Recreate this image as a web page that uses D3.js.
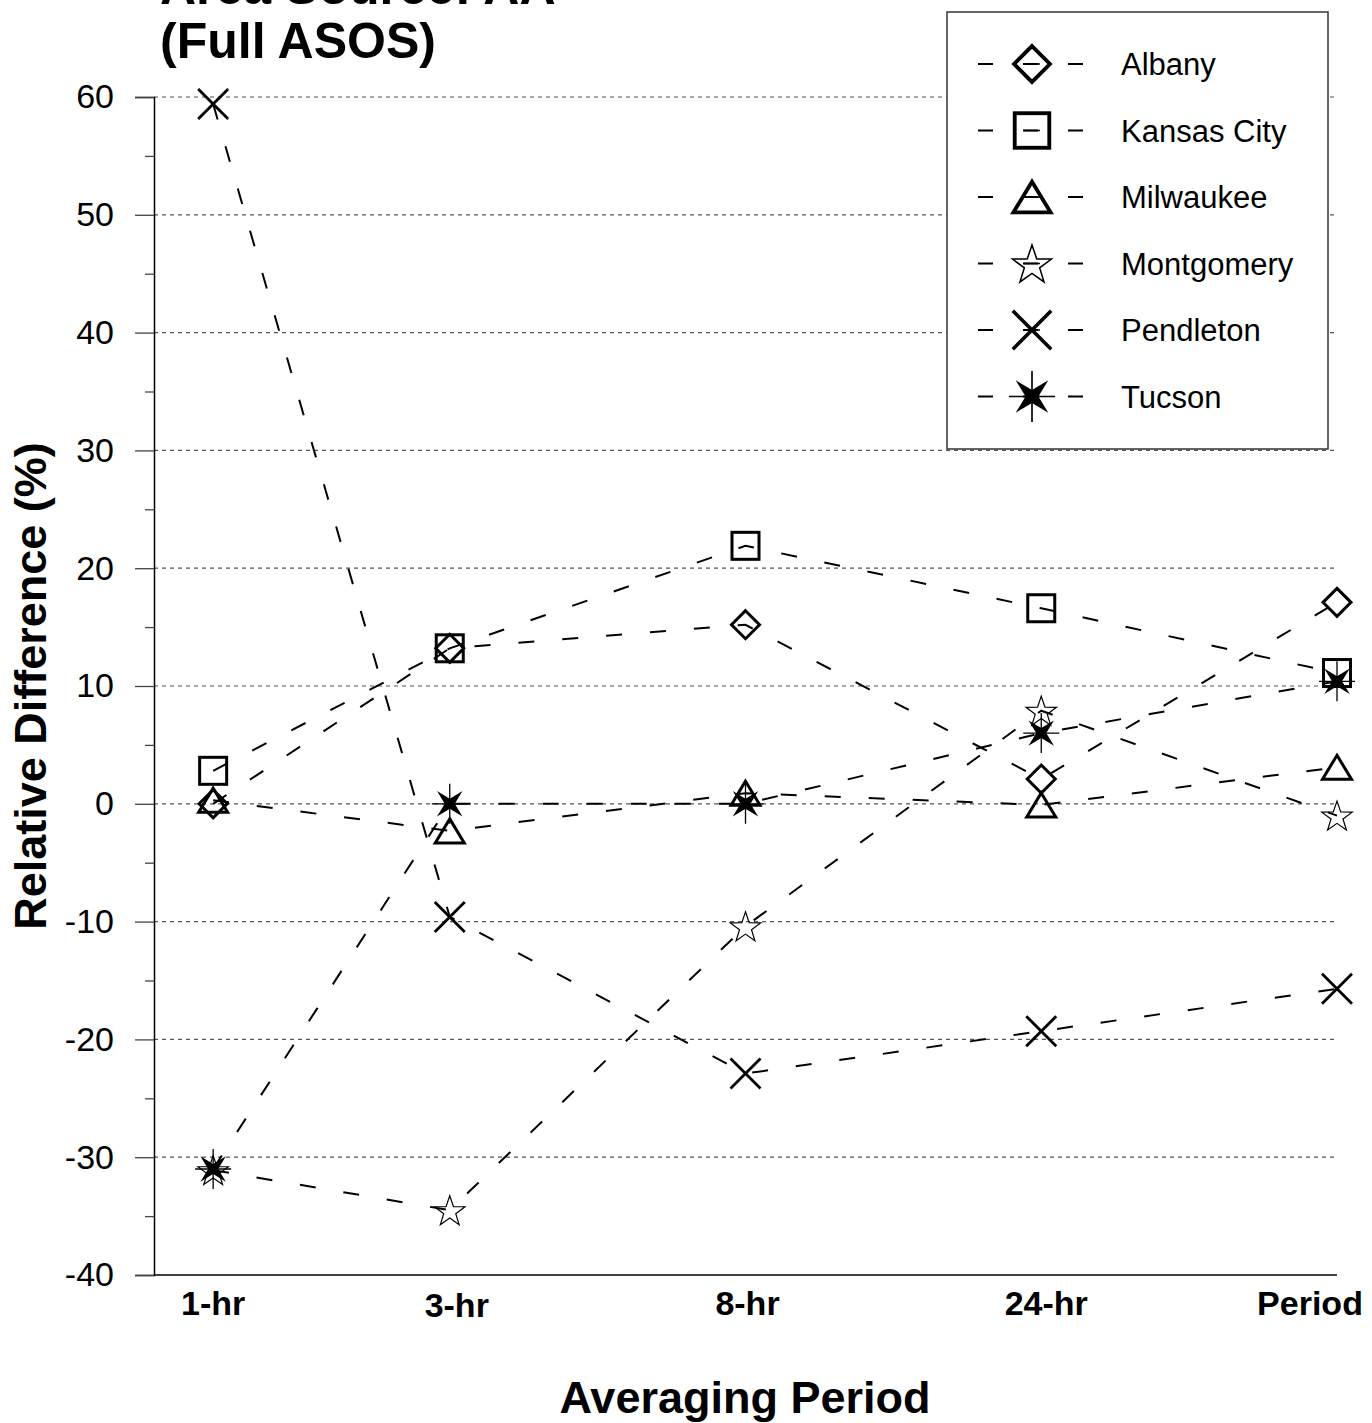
<!DOCTYPE html>
<html>
<head>
<meta charset="utf-8">
<script src="https://cdn.jsdelivr.net/npm/d3@7"></script>
<style>
  html, body { margin: 0; padding: 0; background: #fff; }
  svg { display: block; font-family: "Liberation Sans", Arial, sans-serif; }
</style>
</head>
<body>
<svg id="chart" width="1372" height="1423"></svg>
<script>
// Averaging periods along the x axis and where each sits on the period scale
const periods = ["1-hr", "3-hr", "8-hr", "24-hr", "Period"];
const periodPos = [0.2, 1, 2, 3, 4];

// Relative difference (%) per station, one value per averaging period
const albany      = [0.0, 13.2, 15.2, 2.1, 17.1];
const kansasCity  = [2.8, 13.2, 21.9, 16.6, 11.1];
const milwaukee   = [0.3, -2.3, 0.9, -0.1, 3.1];
const montgomery  = [-31.1, -34.5, -10.4, 7.9, -1.0];
const pendleton   = [59.4, -9.6, -22.9, -19.3, -15.7];
const tucson      = [-31.0, 0.0, 0.0, 6.0, 10.4];

const stations = ["Albany", "Kansas City", "Milwaukee", "Montgomery", "Pendleton", "Tucson"];
const markers  = ["diamond", "square", "triangle", "star", "cross", "asterisk"];
const seriesValues = [albany, kansasCity, milwaukee, montgomery, pendleton, tucson];

const yMajorTicks = [60, 50, 40, 30, 20, 10, 0, -10, -20, -30, -40];
const yMinorTicks = [55, 45, 35, 25, 15, 5, -5, -15, -25, -35];

const svg = d3.select("#chart");

const x = d3.scaleLinear().domain([0, 4]).range([154, 1337]);
const y = d3.scaleLinear().domain([-40, 60]).range([1275, 97]);

// Horizontal dotted gridlines
svg.append("g")
  .selectAll("line")
  .data(yMajorTicks.filter(v => v > -40))
  .join("line")
  .attr("x1", x(0)).attr("x2", x(4))
  .attr("y1", d => y(d)).attr("y2", d => y(d))
  .attr("stroke", "#555").attr("stroke-width", 1.2)
  .attr("stroke-dasharray", "4,4");

// Y axis: major ticks with labels, minor ticks without
const yAxis = svg.append("g").attr("transform", `translate(${x(0)},0)`)
  .call(d3.axisLeft(y).tickValues(yMajorTicks).tickSize(19).tickPadding(21).tickFormat(d => String(d)));
yAxis.select(".domain").attr("stroke", "#000").attr("stroke-width", 1.5);
yAxis.selectAll(".tick line").attr("stroke", "#444").attr("stroke-width", 1.3);
yAxis.selectAll(".tick text")
  .attr("font-size", 34).attr("fill", "#000")
  .attr("font-family", "'Liberation Sans', Arial, sans-serif");

const yMinor = svg.append("g").attr("transform", `translate(${x(0)},0)`)
  .call(d3.axisLeft(y).tickValues(yMinorTicks).tickSize(9).tickFormat(""));
yMinor.select(".domain").remove();
yMinor.selectAll(".tick line").attr("stroke", "#444").attr("stroke-width", 1.3);

// X axis baseline and category labels
svg.append("line")
  .attr("x1", x(0)).attr("x2", x(4))
  .attr("y1", y(-40)).attr("y2", y(-40))
  .attr("stroke", "#000").attr("stroke-width", 1.5);

const labelShift = [0, 7, 2, 5, -27];
svg.append("g")
  .selectAll("text")
  .data(periods)
  .join("text")
  .attr("x", (d, i) => x(periodPos[i]) + labelShift[i])
  .attr("y", (d, i) => i === 1 ? 1317 : 1315)
  .attr("text-anchor", "middle")
  .attr("font-size", 34).attr("font-weight", "bold")
  .text(d => d);

// Marker shapes
const starPath = (() => {
  const pts = [];
  for (let i = 0; i < 10; i++) {
    const r = i % 2 === 0 ? 16 : 6.3;
    const a = -Math.PI / 2 + i * Math.PI / 5;
    pts.push([r * Math.cos(a), r * Math.sin(a) + 1.5]);
  }
  return "M" + pts.map(p => p.join(",")).join("L") + "Z";
})();
const asteriskFill = (() => {
  const pts = [];
  for (let i = 0; i < 8; i++) {
    const r = i % 2 === 0 ? 18 : 5;
    const a = -Math.PI * 3 / 4 + i * Math.PI / 4;
    pts.push([r * Math.cos(a), r * Math.sin(a)]);
  }
  return "M" + pts.map(p => p.join(",")).join("L") + "Z";
})();

function drawMarker(g, type) {
  switch (type) {
    case "diamond":
      g.append("path").attr("d", "M0,-14L14,0L0,14L-14,0Z")
        .attr("fill", "none").attr("stroke", "#000").attr("stroke-width", 3);
      break;
    case "square":
      g.append("rect").attr("x", -13.5).attr("y", -13.5).attr("width", 27).attr("height", 27)
        .attr("fill", "none").attr("stroke", "#000").attr("stroke-width", 3);
      break;
    case "triangle":
      g.append("path").attr("d", "M0,-12L14.5,12L-14.5,12Z")
        .attr("fill", "none").attr("stroke", "#000").attr("stroke-width", 3)
        .attr("stroke-linejoin", "miter");
      break;
    case "star":
      g.append("path").attr("d", starPath)
        .attr("fill", "none").attr("stroke", "#000").attr("stroke-width", 1.2);
      break;
    case "cross":
      g.append("path").attr("d", "M-15,-15L15,15M15,-15L-15,15")
        .attr("fill", "none").attr("stroke", "#000").attr("stroke-width", 2.8);
      break;
    case "asterisk":
      g.append("path").attr("d", asteriskFill).attr("fill", "#000");
      g.append("path").attr("d", "M0,-20L0,20M-18,0L18,0")
        .attr("stroke", "#000").attr("stroke-width", 1.3);
      break;
  }
}

const line = d3.line()
  .x((d, i) => x(periodPos[i]))
  .y(d => y(d));

const plot = svg.append("g");
seriesValues.forEach((vals, s) => {
  plot.append("path")
    .datum(vals)
    .attr("d", line)
    .attr("fill", "none")
    .attr("stroke", "#000").attr("stroke-width", 2)
    .attr("stroke-dasharray", "16,28");
  vals.forEach((v, i) => {
    const g = plot.append("g").attr("transform", `translate(${x(periodPos[i])},${y(v)})`);
    drawMarker(g, markers[s]);
  });
});

// Legend
const legend = svg.append("g");
legend.append("rect")
  .attr("x", 947).attr("y", 12).attr("width", 381).attr("height", 437)
  .attr("fill", "#fff").attr("stroke", "#333").attr("stroke-width", 1.5);
stations.forEach((name, i) => {
  const cy = 64 + i * 66.5;
  legend.append("line")
    .attr("x1", 978).attr("x2", 1084).attr("y1", cy).attr("y2", cy)
    .attr("stroke", "#000").attr("stroke-width", 2)
    .attr("stroke-dasharray", "15,30");
  legend.append("line")
    .attr("x1", 1024).attr("x2", 1040).attr("y1", cy).attr("y2", cy)
    .attr("stroke", "#000").attr("stroke-width", 1.5);
  drawMarker(legend.append("g").attr("transform", `translate(1032,${cy}) scale(1.28)`), markers[i]);
  legend.append("text")
    .attr("x", 1121).attr("y", cy + 11)
    .attr("font-size", 31)
    .text(name);
});

// Titles (the first line runs off the top of the page)
svg.append("text")
  .attr("x", 160).attr("y", 4)
  .attr("font-size", 50).attr("font-weight", "bold")
  .text("Area Source: AA");
svg.append("text")
  .attr("x", 160).attr("y", 58)
  .attr("font-size", 50).attr("font-weight", "bold")
  .text("(Full ASOS)");

svg.append("text")
  .attr("transform", "translate(46,686) rotate(-90)")
  .attr("text-anchor", "middle")
  .attr("font-size", 45).attr("font-weight", "bold")
  .text("Relative Difference (%)");

svg.append("text")
  .attr("x", 745).attr("y", 1413)
  .attr("text-anchor", "middle")
  .attr("font-size", 45).attr("font-weight", "bold")
  .text("Averaging Period");
</script>
</body>
</html>
